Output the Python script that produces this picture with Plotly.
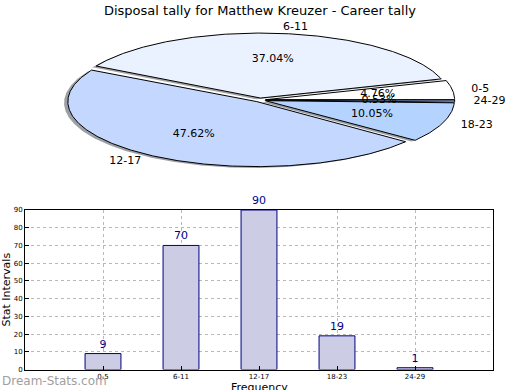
import numpy as np
import plotly.graph_objects as go

# ---------------- data ----------------
categories = ["0-5", "6-11", "12-17", "18-23", "24-29"]
tally = [9, 70, 90, 19, 1]
slice_colors = ["#ffffff", "#eaf2ff", "#c4d8ff", "#b4d4ff", "#9ec4ff"]
y_ticks = list(range(0, 91, 10))
title_text = "Disposal tally for Matthew Kreuzer - Career tally"
x_title = "Frequency"
y_title = "Stat Intervals"

# ---------------- layout constants (pixels) ----------------
W, H = 520, 390
CX, CY, RX, RY = 260, 100, 189, 65     # ellipse pie centre / radii
EXPLODE = 0.03
SHADOW = 0.02
FONT = "DejaVu Sans"

fig = go.Figure()

total = float(sum(tally))
fracs = [v / total for v in tally]
bounds = np.concatenate([[0.0], np.cumsum(fracs) * 360.0])


def wedge_path(t1, t2, ox, oy):
    n = max(3, int((t2 - t1) * 2))
    t = np.radians(np.linspace(t1, t2, n))
    xs = np.concatenate([[CX + ox], CX + ox + RX * np.cos(t), [CX + ox]])
    ys = np.concatenate([[CY - oy], CY - oy - RY * np.sin(t), [CY - oy]])
    return xs, ys


def hex_to_rgb(h):
    h = h.lstrip("#")
    return tuple(int(h[i:i + 2], 16) for i in (0, 2, 4))


offsets = []
for i in range(len(categories)):
    t1, t2 = bounds[i], bounds[i + 1]
    mid = np.radians((t1 + t2) / 2)
    offsets.append((EXPLODE * RX * np.cos(mid), EXPLODE * RY * np.sin(mid)))

# shadows
for i in range(len(categories)):
    t1, t2 = bounds[i], bounds[i + 1]
    ox, oy = offsets[i]
    xs, ys = wedge_path(t1, t2, ox - SHADOW * RX, oy - SHADOW * RY)
    r, g, b = hex_to_rgb(slice_colors[i])
    col = f"rgba({int(r*0.3)},{int(g*0.3)},{int(b*0.3)},0.5)"
    fig.add_trace(go.Scatter(x=xs, y=ys, xaxis="x2", yaxis="y2", mode="lines",
                             fill="toself", fillcolor=col, line=dict(width=0),
                             hoverinfo="skip", showlegend=False))

# wedges
for i in range(len(categories)):
    t1, t2 = bounds[i], bounds[i + 1]
    ox, oy = offsets[i]
    xs, ys = wedge_path(t1, t2, ox, oy)
    fig.add_trace(go.Scatter(x=xs, y=ys, xaxis="x2", yaxis="y2", mode="lines",
                             fill="toself", fillcolor=slice_colors[i],
                             line=dict(color="black", width=1),
                             name=categories[i], hoverinfo="name", showlegend=False))

# labels
for i in range(len(categories)):
    t1, t2 = bounds[i], bounds[i + 1]
    mid = np.radians((t1 + t2) / 2)
    ox, oy = offsets[i]
    lx = CX + ox + 1.1 * RX * np.cos(mid)
    ly = CY - oy - 1.1 * RY * np.sin(mid)
    pos = "middle right" if np.cos(mid) >= 0 else "middle left"
    fig.add_trace(go.Scatter(x=[lx], y=[ly], xaxis="x2", yaxis="y2", mode="text",
                             text=[categories[i]], textposition=pos,
                             textfont=dict(family=FONT, size=11, color="black"),
                             hoverinfo="skip", showlegend=False))
    px = CX + ox + 0.6 * RX * np.cos(mid)
    py = CY - oy - 0.6 * RY * np.sin(mid)
    fig.add_trace(go.Scatter(x=[px], y=[py], xaxis="x2", yaxis="y2", mode="text",
                             text=[f"{fracs[i]*100:.2f}%"], textposition="middle center",
                             textfont=dict(family=FONT, size=11, color="black"),
                             hoverinfo="skip", showlegend=False))

# ---------------- bar chart ----------------
fig.add_trace(go.Bar(x=categories, y=tally, width=0.46,
                     marker=dict(color="#ccccE4", line=dict(color="#000080", width=1)),
                     text=[str(v) for v in tally], textposition="outside",
                     textfont=dict(family=FONT, size=11, color="#00008b"),
                     cliponaxis=False, showlegend=False))

fig.update_layout(
    width=W, height=H,
    margin=dict(l=0, r=0, t=0, b=0, autoexpand=False),
    paper_bgcolor="white", plot_bgcolor="rgba(0,0,0,0)",
    font=dict(family=FONT, color="black"),
    title=dict(text=title_text, x=0.5, xanchor="center", y=1 - 10 / H, yanchor="middle",
               font=dict(family=FONT, size=13, color="black"), automargin=False),
    xaxis=dict(domain=[25 / W, 493 / W], type="category", range=[-1, 5],
               showline=True, mirror=True, linecolor="black", linewidth=1,
               ticks="inside", ticklen=4, tickcolor="black",
               tickfont=dict(size=7), showgrid=True, gridcolor="#b8b8b8",
               griddash="dot", gridwidth=1, anchor="y", automargin=False),
    yaxis=dict(domain=[1 - 369.5 / H, 1 - 210 / H], range=[0, 90],
               tickvals=y_ticks, showline=True, mirror=True, linecolor="black",
               linewidth=1, ticks="inside", ticklen=4, tickcolor="black",
               tickfont=dict(size=7), showgrid=True, gridcolor="#b8b8b8",
               griddash="dot", gridwidth=1, zeroline=False, anchor="x",
               automargin=False,
               title=dict(text=y_title, font=dict(size=11), standoff=2)),
    xaxis2=dict(domain=[0, 1], range=[0, W], visible=False, anchor="y2", fixedrange=True),
    yaxis2=dict(domain=[0, 1], range=[H, 0], visible=False, anchor="x2", fixedrange=True),
    annotations=[
        dict(text="Dream-Stats.com", xref="paper", yref="paper",
             x=0, xanchor="left", y=1 - 381 / H, yanchor="middle",
             showarrow=False, font=dict(family=FONT, size=12, color="#a0a0a0")),
        dict(text=x_title, xref="paper", yref="paper",
             x=259 / W, xanchor="center", y=1 - 387 / H, yanchor="middle",
             showarrow=False, font=dict(family=FONT, size=11, color="black")),
    ],
)

fig.write_html("out.html", config={"displayModeBar": False},
               post_script="document.body.style.margin='0px';"
                           "document.body.style.overflow='hidden';")
